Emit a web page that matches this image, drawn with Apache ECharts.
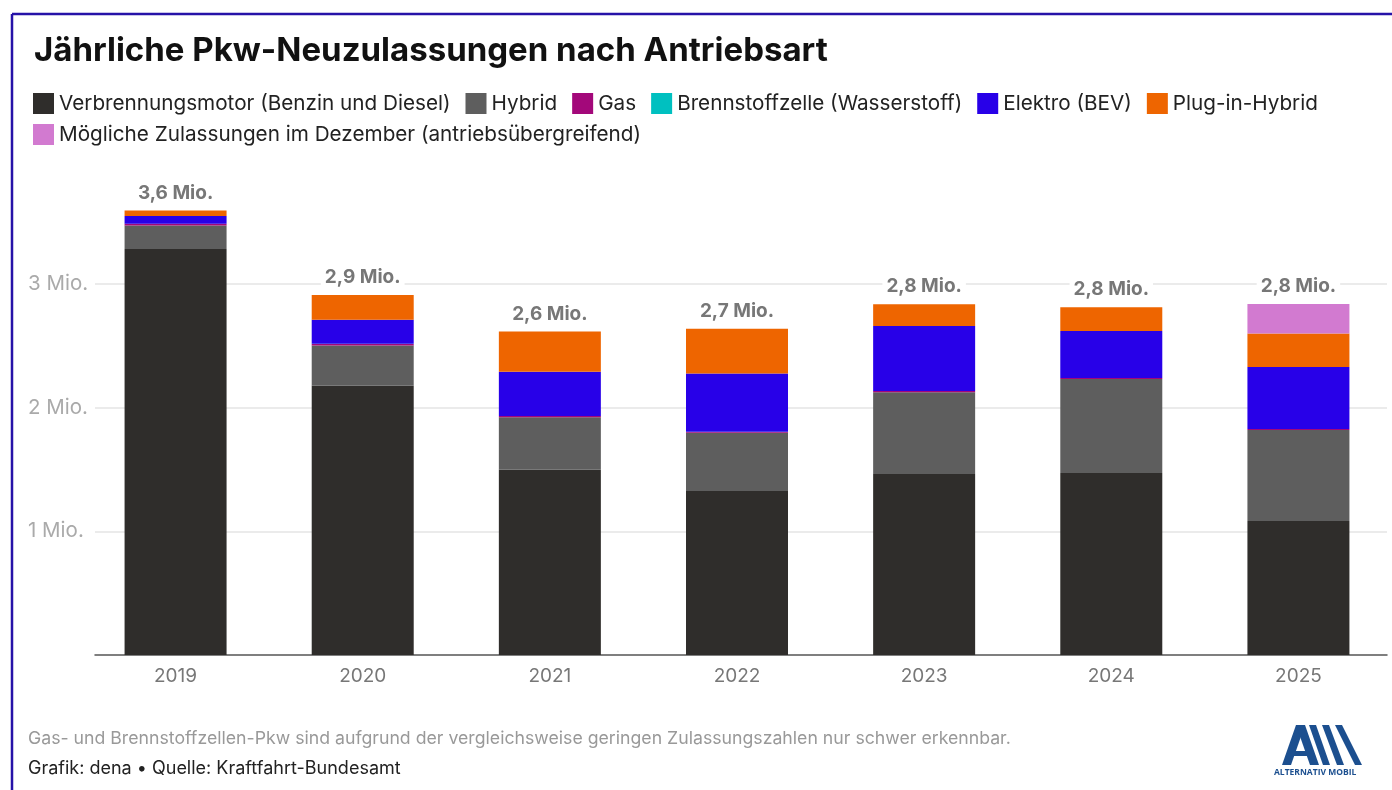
<!DOCTYPE html>
<html>
<head>
<meta charset="utf-8">
<script src="https://cdn.jsdelivr.net/npm/echarts@6/dist/echarts.min.js"></script>
<style>
  html, body { margin: 0; padding: 0; background: #fff; }
  #chart { width: 1392px; height: 790px; }
</style>
</head>
<body>
<div id="chart"></div>
<script>
// Jahre und Werte in Mio. Pkw
var years = ['2019', '2020', '2021', '2022', '2023', '2024', '2025'];
var verbrenner = [3.28, 2.175, 1.496, 1.326, 1.463, 1.471, 1.083];
var hybrid = [0.19, 0.327, 0.425, 0.47, 0.66, 0.76, 0.736];
var gas = [0.014, 0.012, 0.011, 0.007, 0.011, 0.007, 0.008];
var brennstoff = [0.0004, 0.0004, 0.0003, 0.0008, 0.0003, 0.0001, 0.0001];
var elektro = [0.063, 0.194, 0.356, 0.47, 0.524, 0.381, 0.5];
var plugin = [0.045, 0.2, 0.326, 0.362, 0.176, 0.191, 0.27];
var dezember = [0, 0, 0, 0, 0, 0, 0.24];
var totalLabels = ['3,6 Mio.', '2,9 Mio.', '2,6 Mio.', '2,7 Mio.', '2,8 Mio.', '2,8 Mio.', '2,8 Mio.'];
var yTicks = [1, 2, 3];

var names = ['Verbrennungsmotor (Benzin und Diesel)', 'Hybrid', 'Gas',
  'Brennstoffzelle (Wasserstoff)', 'Elektro (BEV)', 'Plug-in-Hybrid',
  'Mögliche Zulassungen im Dezember (antriebsübergreifend)'];

var font = 'Inter';
var chart = echarts.init(document.getElementById('chart'));

function bar(name, data, color) {
  return {
    name: name,
    type: 'bar',
    stack: 'a',
    xAxisIndex: 0,
    yAxisIndex: 0,
    barWidth: 102,
    data: data,
    itemStyle: { color: color },
    emphasis: { disabled: true }
  };
}

function legend(top, data) {
  return {
    left: 28,
    top: top,
    itemWidth: 21,
    itemHeight: 21,
    itemGap: 15,
    icon: 'rect',
    selectedMode: false,
    textStyle: { fontSize: 20.7, color: '#222', fontFamily: font },
    data: data
  };
}

var option = {
  backgroundColor: '#fff',
  animation: false,
  textStyle: { fontFamily: font },
  title: {
    text: 'Jährliche Pkw-Neuzulassungen nach Antriebsart',
    left: 29,
    top: 30,
    textStyle: { fontSize: 33, fontWeight: 'bold', color: '#111', fontFamily: font }
  },
  legend: [legend(88, names.slice(0, 6)), legend(119, names.slice(6))],
  grid: [
    { left: 82, width: 1318, top: 160, bottom: 135 },
    { left: 95, right: 5, top: 160, bottom: 135 }
  ],
  xAxis: [
    {
      type: 'category', gridIndex: 0, data: years,
      axisLine: { show: false }, axisTick: { show: false },
      axisLabel: { color: '#777', fontSize: 19, margin: 12, fontFamily: font }
    },
    {
      type: 'category', gridIndex: 1, data: [''],
      axisLine: { show: true, lineStyle: { color: '#555', width: 1.5 } },
      axisTick: { show: false }, axisLabel: { show: false }
    }
  ],
  yAxis: [
    { type: 'value', gridIndex: 0, min: 0, max: 4, show: false },
    {
      type: 'value', gridIndex: 1, min: 0, max: 4, interval: 1,
      axisLine: { show: false }, axisTick: { show: false },
      splitLine: { show: true, showMinLine: false, showMaxLine: false, lineStyle: { color: '#e4e4e4', width: 1.5 } },
      axisLabel: {
        align: 'left', margin: 67, color: '#aaa', fontSize: 20.5, fontFamily: font,
        formatter: function (v) { return yTicks.indexOf(v) >= 0 ? v + ' Mio.' : ''; }
      }
    }
  ],
  series: [
    bar(names[0], verbrenner, '#2f2d2b'),
    bar(names[1], hybrid, '#5e5e5e'),
    bar(names[2], gas, '#a3087a'),
    bar(names[3], brennstoff, '#00c0c0'),
    bar(names[4], elektro, '#2800e8'),
    bar(names[5], plugin, '#ee6500'),
    bar(names[6], dezember, '#d27ad0'),
    {
      name: 'Summe', type: 'bar', stack: 'a', barWidth: 102,
      data: years.map(function () { return 0; }),
      itemStyle: { color: 'transparent' },
      label: {
        show: true, position: 'top', distance: 8,
        color: '#777', fontSize: 19, fontWeight: 'bold', fontFamily: font,
        backgroundColor: '#fff', padding: [0, 4],
        formatter: function (p) { return totalLabels[p.dataIndex]; }
      }
    }
  ],
  graphic: [
    { type: 'line', shape: { x1: 12, y1: 14, x2: 1392, y2: 14 }, style: { stroke: '#2612a8', lineWidth: 2.5 } },
    { type: 'line', shape: { x1: 12, y1: 14, x2: 12, y2: 790 }, style: { stroke: '#2612a8', lineWidth: 2.5 } },
    { type: 'text', left: 28, top: 730, style: { text: 'Gas- und Brennstoffzellen-Pkw sind aufgrund der vergleichsweise geringen Zulassungszahlen nur schwer erkennbar.', fill: '#999', fontSize: 17.7, fontFamily: font } },
    { type: 'text', left: 28, top: 760, style: { text: 'Grafik: dena • Quelle: Kraftfahrt-Bundesamt', fill: '#222', fontSize: 18, fontFamily: font } },
    // Logo
    { type: 'polygon', shape: { points: [[1282, 765], [1296, 725], [1305, 725], [1291, 765]] }, style: { fill: '#1c4f8f' } },
    { type: 'polygon', shape: { points: [[1296, 725], [1305, 725], [1319, 765], [1310, 765]] }, style: { fill: '#1c4f8f' } },
    { type: 'rect', shape: { x: 1289, y: 751, width: 22, height: 5 }, style: { fill: '#1c4f8f' } },
    { type: 'polygon', shape: { points: [[1309, 725], [1316, 725], [1330, 765], [1323, 765]] }, style: { fill: '#1c4f8f' } },
    { type: 'polygon', shape: { points: [[1322, 725], [1329, 725], [1344, 765], [1337, 765]] }, style: { fill: '#1c4f8f' } },
    { type: 'polygon', shape: { points: [[1335, 725], [1342, 725], [1362, 765], [1355, 765]] }, style: { fill: '#1c4f8f' } },
    { type: 'text', left: 1274, top: 768, style: { text: 'ALTERNATIV MOBIL', fill: '#1c4f8f', fontSize: 8.5, fontWeight: 'bold', fontFamily: 'Open Sans' } }
  ]
};

chart.setOption(option);
</script>
</body>
</html>
